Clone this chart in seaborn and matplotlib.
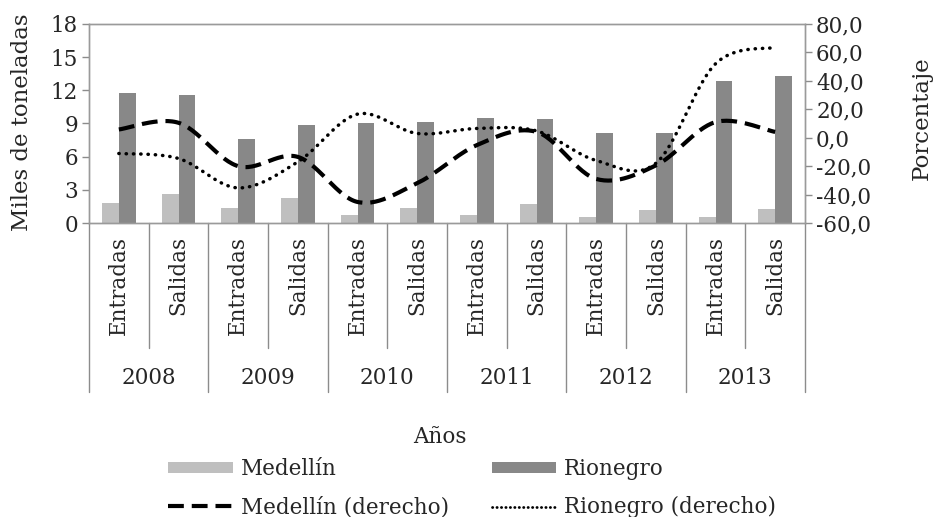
import numpy as np
import pandas as pd
import matplotlib
matplotlib.use("Agg")
import matplotlib.pyplot as plt
import seaborn as sns
from matplotlib.lines import Line2D
from matplotlib.patches import Patch
import matplotlib.transforms as mtransforms

# ---------------- data ----------------
years = ["2008", "2009", "2010", "2011", "2012", "2013"]
flows = ["Entradas", "Salidas"]
medellin_t = [1.8, 2.6, 1.4, 2.3, 0.7, 1.4, 0.7, 1.7, 0.5, 1.2, 0.5, 1.3]
rionegro_t = [11.8, 11.6, 7.6, 8.9, 9.0, 9.1, 9.5, 9.4, 8.1, 8.1, 12.8, 13.3]
medellin_pct = [5.8, 10.5, -20.0, -13.5, -45.2, -32.0, -5.2, 4.1, -29.0, -19.5, 11.0, 4.1]
rionegro_pct = [-11.1, -14.6, -35.3, -17.0, 16.6, 3.0, 6.5, 4.8, -16.0, -18.0, 52.0, 63.6]
left_ticks = [0, 3, 6, 9, 12, 15, 18]
right_ticks = [-60, -40, -20, 0, 20, 40, 60, 80]

cats = [f"{y} {f}" for y in years for f in flows]
df = pd.DataFrame({
    "cat": cats * 2,
    "valor": medellin_t + rionegro_t,
    "Ciudad": ["Medellín"] * len(cats) + ["Rionegro"] * len(cats),
})

FONT = "DejaVu Serif"
FS = 15.5
FSL = 16.5
sns.set_theme(style="white")
plt.rcParams["font.family"] = [FONT, "DejaVu Sans"]
plt.rcParams["font.size"] = FS

fig = plt.figure(figsize=(9.34, 5.17), dpi=100)
ax = fig.add_axes([89 / 934, 1 - 223 / 517, (805 - 89) / 934, (223 - 24) / 517])

c_med = "#bfbfbf"
c_rio = "#888888"
sns.barplot(data=df, x="cat", y="valor", hue="Ciudad", order=cats,
            palette={"Medellín": c_med, "Rionegro": c_rio},
            width=0.56, ax=ax, legend=False, saturation=1, linewidth=0)

ax.set_ylim(0, 18)
ax.set_xlim(-0.5, len(cats) - 0.5)
ax.set_yticks(left_ticks)
ax.set_yticklabels([str(t) for t in left_ticks], fontsize=FS)
ax.set_xticks([])
ax.set_xlabel("")
ax.set_ylabel("Miles de toneladas", fontsize=FSL)
ax.yaxis.set_label_coords(-(89 - 33) / 716, (223 - 122) / 199)
ax.tick_params(axis="y", which="both", left=True, length=5, width=1, color="#8c8c8c", pad=3)
for s in ax.spines.values():
    s.set_color("#9a9a9a")
    s.set_linewidth(1)

# secondary axis
ax2 = ax.twinx()
ax2.set_ylim(-60, 80)
ax2.set_yticks(right_ticks)
ax2.set_yticklabels([f"{t},0" for t in right_ticks], fontsize=FS)
ax2.set_ylabel("Porcentaje", fontsize=FSL)
ax2.yaxis.set_label_coords((911 - 89) / 716, (223 - 118) / 199)
ax2.tick_params(axis="y", right=True, length=5, width=1, color="#8c8c8c", pad=3)
for s in ax2.spines.values():
    s.set_color("#9a9a9a")
    s.set_linewidth(1)


def smooth(vals, n=30):
    """Excel-like smoothed line (Bezier / Catmull-Rom) through the points."""
    p = np.array(vals, dtype=float)
    xs_all, ys_all = [], []
    m = len(p)
    for i in range(m - 1):
        p0 = p[i - 1] if i > 0 else p[i]
        p3 = p[i + 2] if i + 2 < m else p[i + 1]
        x0 = i - 1 if i > 0 else i
        x3 = i + 2 if i + 2 < m else i + 1
        b1y = p[i] + (p[i + 1] - p0) / 6
        b2y = p[i + 1] - (p3 - p[i]) / 6
        b1x = i + (i + 1 - x0) / 6
        b2x = i + 1 - (x3 - i) / 6
        t = np.linspace(0, 1, n, endpoint=(i == m - 2))
        bx = (1 - t) ** 3 * i + 3 * (1 - t) ** 2 * t * b1x + 3 * (1 - t) * t ** 2 * b2x + t ** 3 * (i + 1)
        by = (1 - t) ** 3 * p[i] + 3 * (1 - t) ** 2 * t * b1y + 3 * (1 - t) * t ** 2 * b2y + t ** 3 * p[i + 1]
        xs_all.append(bx)
        ys_all.append(by)
    return np.concatenate(xs_all), np.concatenate(ys_all)


DASH = (0, (3.8, 1.9))
DOT = (0, (0.1, 2.0))
mx, my = smooth(medellin_pct)
rx, ry = smooth(rionegro_pct)
sns.lineplot(x=mx, y=my, ax=ax2, color="black", lw=3.0, estimator=None, sort=False,
             linestyle=DASH, dash_capstyle="butt")
sns.lineplot(x=rx, y=ry, ax=ax2, color="black", lw=2.5, estimator=None, sort=False,
             linestyle=DOT, dash_capstyle="round")
ax2.set_xlim(-0.5, len(cats) - 0.5)

# multi-level category axis
trans = mtransforms.blended_transform_factory(ax.transData, ax.transAxes)
sep_col = "#8c8c8c"
for i in range(len(cats) + 1):
    xb = i - 0.5
    if i % 2 == 0:
        y_end = -(392 - 223) / 199
    else:
        y_end = -(348 - 223) / 199
    ax.add_line(Line2D([xb, xb], [0, y_end], transform=trans, color=sep_col,
                       lw=1, clip_on=False))
for i, c in enumerate(cats):
    flow = c.split(" ")[1]
    ax.text(i, -(236 - 223) / 199, flow, transform=trans, rotation=90,
            ha="center", va="top", fontsize=FS)
for j, y in enumerate(years):
    ax.text(2 * j + 0.5, -(378 - 223) / 199, y, transform=trans,
            ha="center", va="center", fontsize=FS)

fig.text(440 / 934, 1 - 437 / 517, "Años", ha="center", va="center", fontsize=FS)

handles = [
    Patch(facecolor=c_med, edgecolor="none", label="Medellín"),
    Line2D([], [], color="black", lw=3.0, linestyle=DASH, label="Medellín (derecho)"),
    Patch(facecolor=c_rio, edgecolor="none", label="Rionegro"),
    Line2D([], [], color="black", lw=2.0, linestyle=(0, (0.1, 1.5)),
           dash_capstyle="round", label="Rionegro (derecho)"),
]
fig.legend(handles=handles, ncol=2, loc="upper left", bbox_to_anchor=(168 / 934, 1 - 458 / 517),
           frameon=False, fontsize=FS, handlelength=3.0, handleheight=0.45,
           handletextpad=0.37, columnspacing=2.0, labelspacing=0.75, borderpad=0,
           borderaxespad=0)

fig.savefig("out.png", dpi=100)
